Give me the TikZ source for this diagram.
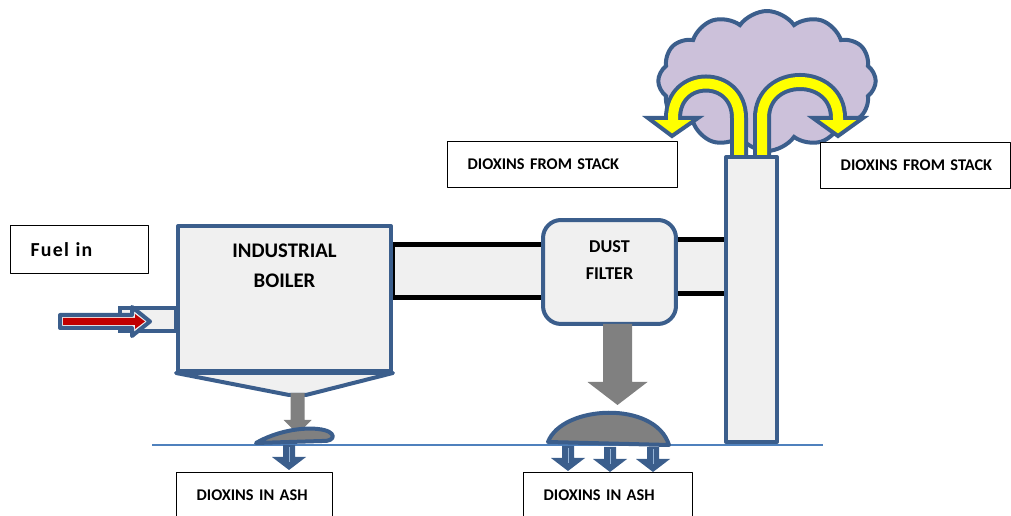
\documentclass[tikz,border=0pt]{standalone}
\usepackage{fontspec}
\setmainfont{Carlito}
\newfontfamily\fuelfont[LetterSpace=6]{Carlito}
\usetikzlibrary{shapes.symbols}

\definecolor{edgeblue}{RGB}{59,94,140}
\definecolor{panel}{RGB}{240,240,240}
\definecolor{ashgray}{RGB}{128,128,128}
\definecolor{plumelilac}{RGB}{204,193,218}
\definecolor{groundblue}{RGB}{79,129,189}
\definecolor{fuelred}{RGB}{192,0,0}
\definecolor{fumeyellow}{RGB}{255,255,0}

\pgfdeclarelayer{background}
\pgfsetlayers{background,main}

\tikzset{
  plant/.style={draw=edgeblue, fill=panel, line width=0.08cm},
  heap/.style={draw=edgeblue, fill=ashgray, line width=0.08cm},
  duct/.style={draw=black, line width=0.1cm},
  fume/.style={draw=edgeblue, line width=0.36cm},
  fumecore/.style={draw=fumeyellow, line width=0.2cm},
  fumehead/.style={draw=edgeblue, fill=fumeyellow, line width=0.08cm},
  tagbox/.style={draw=black, line width=0.8pt, fill=white, anchor=north west,
    align=left, inner xsep=0.4cm, inner ysep=0pt, minimum height=0.92cm,
    font=\fontsize{9.3}{11}\selectfont\bfseries},
  ashout/.pic={
    \fill[edgeblue] (-6,0) -- (6,0) -- (6,12) -- (17,12) -- (0,25) -- (-17,12) -- (-6,12) -- cycle;
    \draw[groundblue!60!white, line width=0.4pt] (0,2) -- (0,17);
  }
}

\begin{document}
\begin{tikzpicture}[x=0.02cm, y=-0.02cm, line join=round]
  \useasboundingbox (0,0) rectangle (1011,516);

  % Ground level
  \draw[groundblue, line width=0.9pt] (152,445) -- (823,445);

  % Boiler with hopper
  \node[plant, minimum width=4.26cm, minimum height=2.9cm] (boiler) at (284.5,298.5) {};
  \coordinate (hopper) at (297.5,393);
  \filldraw[plant] (boiler.south west) -- (boiler.south east) -- (306,395) -- (289,395) -- cycle;
  \node[align=center, inner sep=0pt, anchor=north, font=\fontsize{11.8}{17}\selectfont\bfseries]
    (boilertxt) at ([yshift=-0.4cm]boiler.north) {INDUSTRIAL\\BOILER};

  % Fuel feed
  \begin{pgfonlayer}{background}
    \filldraw[plant] (120,308) rectangle (boiler.west |- 0,331);
  \end{pgfonlayer}
  \filldraw[plant] (60,315) -- (132,315) -- (132,307) -- (150,321.5) -- (132,336) -- (132,328) -- (60,328) -- cycle;
  \fill[fuelred] (63,318) -- (135,318) -- (135,314) -- (145,321.5) -- (135,329) -- (135,325) -- (63,325) -- cycle;

  % Dust filter
  \node[plant, rounded corners=0.36cm, minimum width=2.66cm, minimum height=2.08cm] (filter) at (609.5,272) {};
  \node[align=center, inner sep=0pt, anchor=north, font=\fontsize{10.3}{15.3}\selectfont\bfseries]
    (filtertxt) at ([yshift=-0.44cm]filter.north) {DUST\\FILTER};

  % Stack
  \node[plant, minimum width=1.02cm, minimum height=5.7cm] (stack) at (751.5,299.5) {};
  \coordinate (ventL) at ([xshift=-0.25cm]stack.north);
  \coordinate (ventR) at ([xshift=0.21cm]stack.north);

  % Flue ducts
  \coordinate (d1top) at (0,244.5);
  \coordinate (d1bot) at (0,297.5);
  \coordinate (d2top) at (0,239.5);
  \coordinate (d2bot) at (0,294);
  \begin{pgfonlayer}{background}
    \fill[panel] (boiler.east |- d1top) rectangle (filter.center |- d1bot);
    \draw[duct] (filter.center |- d1top) -- (boiler.east |- d1top) -- (boiler.east |- d1bot) -- (filter.center |- d1bot);
    \fill[panel] (filter.center |- d2top) rectangle (stack.center |- d2bot);
    \draw[duct] (filter.center |- d2top) -- (stack.west |- d2top);
    \draw[duct] (filter.center |- d2bot) -- (stack.west |- d2bot);
  \end{pgfonlayer}

  % Ash falling out
  \fill[ashgray] (hopper) ++(-7,0) -- ++(14,0) -- ++(0,27) -- ++(7,0) -- ++(-14,14) -- ++(-14,-14) -- ++(7,0) -- cycle;
  \coordinate (chute) at (617.5,324);
  \fill[ashgray] (chute) ++(-14.5,0) -- ++(29,0) -- ++(0,58) -- ++(15.5,0) -- ++(-30,23) -- ++(-30,-23) -- ++(15.5,0) -- cycle;
  \filldraw[heap] (256,443) .. controls (275,432) and (300,427) .. (318,429) .. controls (338,431) and (336,442) .. (322,441) -- cycle;
  \filldraw[heap] (548,442) .. controls (562,405) and (655,400) .. (669,445) -- cycle;
  \pic at (289,445) {ashout};
  \pic at (568,446) {ashout};
  \pic at (610,447) {ashout};
  \pic at (653,447) {ashout};

  % Plume with the releases from the stack
  \begin{pgfonlayer}{background}
    \node[cloud, cloud puffs=12, cloud puff arc=110, aspect=1.65, draw=edgeblue, fill=plumelilac,
      line width=0.08cm, minimum width=4.35cm, minimum height=2.8cm] (plume) at (767,81) {};
    \draw[fume] (ventL) -- (739,118) .. controls (739,72) and (673,72) .. (673,118);
    \filldraw[fumehead] (648,118) -- (698,118) -- (672,136) -- cycle;
    \draw[fumecore] (ventL) -- (739,118) .. controls (739,72) and (673,72) .. (673,118) -- (673,124);
    \draw[fume] (ventR) -- (762,118) .. controls (762,70) and (838,70) .. (838,118);
    \filldraw[fumehead] (813,118) -- (863,118) -- (838,136) -- cycle;
    \draw[fumecore] (ventR) -- (762,118) .. controls (762,70) and (838,70) .. (838,118) -- (838,124);
  \end{pgfonlayer}

  % Labels
  \node[tagbox, text width=1.96cm, minimum height=0.96cm, font=\fuelfont\fontsize{11.3}{13}\selectfont\bfseries]
    (fuel) at (10,225) {Fuel in};
  \node[tagbox, text width=3.8cm] (stacktagL) at (447,141) {DIOXINS~FROM~STACK};
  \node[tagbox, text width=3.0cm] (stacktagR) at (820,142) {DIOXINS~FROM~STACK};
  \node[tagbox, text width=2.32cm] (ashtagA) at (176,472) {DIOXINS~IN~ASH};
  \node[tagbox, text width=2.58cm] (ashtagB) at (523,472) {DIOXINS~IN~ASH};
\end{tikzpicture}
\end{document}
